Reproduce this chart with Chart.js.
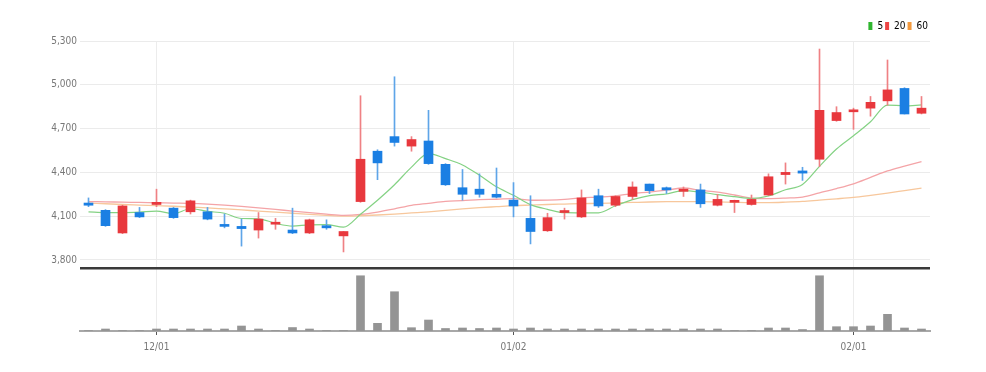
<!DOCTYPE html>
<html>
<head>
<meta charset="utf-8">
<script src="https://cdn.jsdelivr.net/npm/chart.js@4.4.1/dist/chart.umd.min.js"></script>
<style>
  html, body { margin: 0; padding: 0; background: #fff; }
  #wrap { width: 986px; height: 372px; }
</style>
</head>
<body>
<div id="wrap"><canvas id="stockChart" width="986" height="372"></canvas></div>
<script>
// trading days (MM/DD)
const dates = [
  "11/25", "11/28", "11/29", "11/30", "12/01", "12/02", "12/05", "12/06", "12/07", "12/08",
  "12/09", "12/12", "12/13", "12/14", "12/15", "12/16", "12/19", "12/20", "12/21", "12/22",
  "12/23", "12/26", "12/27", "12/28", "12/29", "01/02", "01/03", "01/04", "01/05", "01/06",
  "01/09", "01/10", "01/11", "01/12", "01/13", "01/16", "01/17", "01/18", "01/19", "01/20",
  "01/25", "01/26", "01/27", "01/30", "01/31", "02/01", "02/02", "02/03", "02/06", "02/07"
];
const shownDates = ["12/01", "01/02", "02/01"];

const opens = [
  4190, 4140, 3985, 4125, 4180, 4155, 4130, 4130, 4040, 4030,
  4005, 4045, 4005, 3985, 4035, 3965, 4200, 4545, 4645, 4580,
  4615, 4455, 4295, 4285, 4250, 4210, 4085, 4000, 4125, 4095,
  4240, 4175, 4235, 4320, 4295, 4270, 4280, 4175, 4195, 4180,
  4245, 4385, 4410, 4490, 4755, 4815, 4840, 4890, 4975, 4805
];
const highs = [
  4225, 4145, 4175, 4160, 4285, 4160, 4210, 4160, 4115, 4080,
  4125, 4085, 4155, 4080, 4075, 3995, 4925, 4555, 5055, 4645,
  4825, 4460, 4420, 4390, 4430, 4330, 4240, 4120, 4155, 4280,
  4285, 4240, 4335, 4320, 4300, 4300, 4320, 4250, 4210, 4245,
  4390, 4465, 4435, 5245, 4850, 4840, 4920, 5170, 4980, 4920
];
const lows = [
  4165, 4030, 3980, 4090, 4165, 4085, 4115, 4075, 4020, 3895,
  3950, 4010, 3980, 3980, 4010, 3855, 4195, 4350, 4580, 4545,
  4455, 4310, 4210, 4230, 4225, 4095, 3910, 3995, 4080, 4090,
  4160, 4165, 4215, 4255, 4255, 4235, 4160, 4170, 4125, 4175,
  4240, 4320, 4345, 4440, 4750, 4695, 4785, 4860, 4800, 4800
];
const closes = [
  4175, 4035, 4170, 4095, 4195, 4090, 4205, 4080, 4030, 4015,
  4080, 4050, 3985, 4075, 4020, 3995, 4490, 4465, 4605, 4625,
  4460, 4315, 4250, 4250, 4230, 4170, 3995, 4090, 4135, 4225,
  4170, 4235, 4300, 4275, 4280, 4285, 4185, 4215, 4205, 4215,
  4370, 4400, 4395, 4825, 4810, 4825, 4880, 4965, 4800, 4840
];
const volumes = [
  9000, 38000, 9000, 9000, 38000, 38000, 38000, 38000, 38000, 95000,
  38000, 9000, 66000, 38000, 9000, 9000, 1052000, 146000, 748000, 63000,
  209000, 48000, 57000, 48000, 57000, 38000, 57000, 38000, 38000, 38000,
  38000, 38000, 38000, 38000, 38000, 38000, 38000, 38000, 9000, 9000,
  57000, 57000, 28000, 1052000, 82000, 82000, 95000, 318000, 57000, 38000
];

// moving averages as drawn
const ma5 = [
  4130, 4125, 4125, 4128, 4134, 4117, 4151, 4133, 4120, 4084,
  4082, 4051, 4032, 4041, 4042, 4025, 4113, 4209, 4315, 4436,
  4529, 4494, 4451, 4380, 4301, 4243, 4179, 4147, 4124, 4123,
  4123, 4171, 4213, 4241, 4252, 4275, 4265, 4248, 4234, 4221,
  4238, 4281, 4317, 4441, 4560, 4651, 4747, 4861, 4856, 4862
];
const ma20 = [
  4200, 4198, 4196, 4194, 4192, 4190, 4188, 4183, 4176, 4167,
  4157, 4146, 4135, 4124, 4114, 4106, 4112, 4128, 4150, 4174,
  4188, 4202, 4206, 4214, 4216, 4220, 4209, 4210, 4215, 4226,
  4230, 4239, 4255, 4265, 4278, 4293, 4277, 4265, 4245, 4224,
  4220, 4224, 4231, 4260, 4289, 4322, 4366, 4410, 4443, 4474
];
const ma60 = [
  4190, 4185, 4180, 4176, 4172, 4168, 4162, 4157, 4150, 4143,
  4135, 4128, 4120, 4112, 4105, 4100, 4103, 4108, 4114, 4122,
  4130, 4140, 4150, 4158, 4165, 4172, 4176, 4180, 4183, 4186,
  4188, 4191, 4194, 4197, 4199, 4200, 4200, 4198, 4195, 4193,
  4193, 4196, 4201, 4210, 4219, 4229, 4243, 4258, 4275, 4292
];

const priceTicks = [3800, 4100, 4400, 4700, 5000, 5300];
const volMax = 1200000;

const upColor = "#e8383d";
const downColor = "#1b7fe3";
const upWick = "#ef8184";
const downWick = "#5ea5e8";
const legendColors = { "5": "#2fb52f", "20": "#ee4545", "60": "#f39a3e" };

const isUp = closes.map((c, i) => c >= opens[i]);

Chart.defaults.font.family = "'Liberation Sans Narrow', 'DejaVu Sans Condensed', Roboto, sans-serif";

const stockCtx = document.getElementById("stockChart");

const stockChart = new Chart(stockCtx, {
  type: "bar",
  data: {
    labels: dates,
    datasets: [
      {
        type: "line", label: "5", data: ma5, yAxisID: "y",
        borderColor: "#84d284", borderWidth: 1.2, pointRadius: 0,
        cubicInterpolationMode: "monotone", order: 3
      },
      {
        type: "line", label: "20", data: ma20, yAxisID: "y",
        borderColor: "#f4a4a7", borderWidth: 1.3, pointRadius: 0,
        cubicInterpolationMode: "monotone", order: 4
      },
      {
        type: "line", label: "60", data: ma60, yAxisID: "y",
        borderColor: "#f7c79c", borderWidth: 1.3, pointRadius: 0,
        cubicInterpolationMode: "monotone", order: 5
      },
      {
        // wicks
        label: "", data: lows.map((l, i) => [l, highs[i]]), yAxisID: "y",
        backgroundColor: isUp.map(u => u ? upWick : downWick),
        barThickness: 1, grouped: false, order: 2
      },
      {
        // bodies
        label: "", data: opens.map((o, i) => [o, closes[i]]), yAxisID: "y",
        backgroundColor: isUp.map(u => u ? upColor : downColor),
        barThickness: 9, minBarLength: 2, grouped: false, order: 1
      },
      {
        // volume
        label: "", data: volumes, yAxisID: "v",
        backgroundColor: "#949494",
        barThickness: 8, grouped: false, order: 1
      }
    ]
  },
  options: {
    responsive: false,
    animation: false,
    layout: { padding: { left: 0, right: 56, top: 19, bottom: 0 } },
    plugins: {
      tooltip: { enabled: false },
      legend: {
        position: "top",
        align: "end",
        labels: {
          boxWidth: 4,
          boxHeight: 8,
          padding: 2,
          color: "#888",
          font: { size: 10 },
          generateLabels: ch => ch.data.datasets
            .map((ds, i) => ({
              text: ds.label,
              fillStyle: legendColors[ds.label],
              strokeStyle: legendColors[ds.label],
              lineWidth: 0,
              hidden: false,
              datasetIndex: i
            }))
            .filter(it => it.text !== "")
        }
      }
    },
    scales: {
      x: {
        offset: true,
        grid: {
          offset: false,
          color: c => shownDates.includes(dates[c.index]) ? "#ececec" : "transparent",
          tickColor: c => shownDates.includes(dates[c.index]) ? "#555" : "transparent",
          tickLength: 4
        },
        border: { display: true, color: "#a8a8a8", width: 2 },
        ticks: {
          autoSkip: false,
          maxRotation: 0,
          padding: 6,
          color: "#777",
          font: { size: 10 },
          callback: function (v) {
            const l = this.getLabelForValue(v);
            return shownDates.includes(l) ? l : "";
          }
        },
        afterFit: s => { s.height = 41; }
      },
      y: {
        position: "left",
        stack: "panel",
        stackWeight: 227,
        weight: 1,
        min: 3745,
        max: 5300,
        afterBuildTicks: s => { s.ticks = priceTicks.map(v => ({ value: v })); },
        grid: { color: "#ebebeb", drawTicks: false },
        border: { display: false },
        ticks: {
          color: "#777",
          padding: 3,
          font: { size: 10 },
          callback: v => v.toLocaleString("en-US")
        },
        afterFit: s => { s.width = 80; }
      },
      v: {
        position: "left",
        stack: "panel",
        stackWeight: 63,
        weight: 0,
        min: 0,
        max: volMax,
        afterBuildTicks: s => { s.ticks = [{ value: volMax }]; },
        grid: { color: "#3a3a3a", lineWidth: 2.5, drawTicks: false },
        border: { display: false },
        ticks: { display: false },
        afterFit: s => { s.width = 80; }
      }
    }
  }
});
</script>
</body>
</html>
